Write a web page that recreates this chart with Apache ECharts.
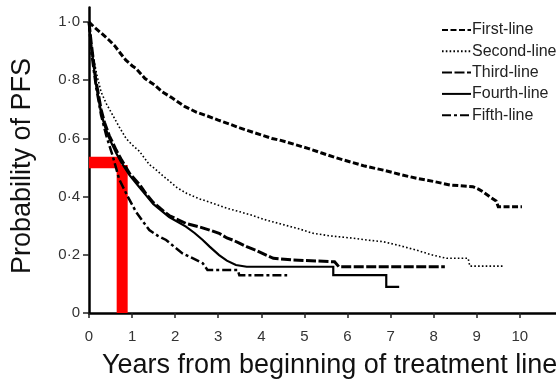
<!DOCTYPE html>
<html><head><meta charset="utf-8">
<script src="https://cdn.jsdelivr.net/npm/echarts@6/dist/echarts.min.js"></script>
<style>html,body{margin:0;padding:0;background:#fff}#c{width:556px;height:382px}</style>
</head><body><div id="c"></div>
<script>
const seriesNames = ['First-line', 'Second-line', 'Third-line', 'Fourth-line', 'Fifth-line'];
const xTicks = [0, 1, 2, 3, 4, 5, 6, 7, 8, 9, 10];
const yTicks = [0, 0.2, 0.4, 0.6, 0.8, 1.0];

const firstLine = [[0,1.0],[0.1,0.985],[0.3,0.96],[0.45,0.94],[0.6,0.918],[0.7,0.898],[0.85,0.87],[1.0,0.85],[1.09,0.841],[1.3,0.806],[1.52,0.784],[1.7,0.76],[1.9,0.742],[2.05,0.727],[2.23,0.709],[2.5,0.69],[2.75,0.677],[3.0,0.663],[3.25,0.65],[3.5,0.636],[3.77,0.623],[4.0,0.612],[4.25,0.6],[4.43,0.594],[4.6,0.587],[4.8,0.578],[5.1,0.565],[5.4,0.55],[5.7,0.535],[6.05,0.52],[6.4,0.505],[6.83,0.491],[7.2,0.477],[7.6,0.463],[8.0,0.452],[8.38,0.44],[8.91,0.434],[9.05,0.425],[9.14,0.417],[9.3,0.40],[9.45,0.385],[9.5,0.365],[10.05,0.365]];
const secondLine = [[0,1.0],[0.04,0.94],[0.1,0.88],[0.18,0.82],[0.28,0.76],[0.4,0.72],[0.55,0.68],[0.7,0.64],[0.86,0.60],[1.0,0.578],[1.17,0.556],[1.3,0.53],[1.4,0.51],[1.52,0.497],[1.65,0.48],[1.85,0.455],[2.05,0.43],[2.27,0.411],[2.55,0.393],[2.88,0.377],[3.2,0.36],[3.5,0.348],[3.8,0.335],[4.1,0.32],[4.55,0.302],[4.9,0.288],[5.2,0.274],[5.6,0.265],[6.13,0.257],[6.5,0.25],[6.83,0.245],[7.2,0.232],[7.6,0.216],[7.95,0.2],[8.3,0.188],[8.8,0.188],[8.84,0.161],[9.6,0.161]];
const thirdLine = [[0,1.0],[0.05,0.93],[0.16,0.80],[0.28,0.70],[0.36,0.655],[0.47,0.61],[0.63,0.56],[0.74,0.53],[0.94,0.48],[1.18,0.44],[1.32,0.41],[1.49,0.38],[1.65,0.36],[1.86,0.335],[2.25,0.308],[2.58,0.295],[2.8,0.285],[3.02,0.274],[3.2,0.258],[3.35,0.25],[3.49,0.24],[3.66,0.228],[3.87,0.216],[4.1,0.2],[4.28,0.188],[4.74,0.182],[5.7,0.176],[5.8,0.159],[8.26,0.159]];
const fourthLine = [[0,1.0],[0.05,0.92],[0.16,0.79],[0.28,0.69],[0.36,0.645],[0.47,0.60],[0.63,0.55],[0.74,0.52],[0.94,0.474],[1.17,0.432],[1.32,0.405],[1.49,0.375],[1.65,0.355],[1.86,0.33],[2.25,0.297],[2.45,0.275],[2.64,0.251],[2.8,0.228],[3.02,0.199],[3.2,0.18],[3.41,0.165],[3.66,0.159],[5.67,0.159],[5.67,0.13],[6.9,0.13],[6.9,0.09],[7.2,0.09]];
const fifthLine = [[0,1.0],[0.05,0.9],[0.16,0.78],[0.28,0.68],[0.4,0.61],[0.55,0.54],[0.7,0.46],[0.9,0.40],[1.09,0.348],[1.25,0.315],[1.4,0.285],[1.6,0.265],[1.79,0.251],[2.0,0.225],[2.17,0.205],[2.45,0.185],[2.64,0.171],[2.75,0.148],[3.45,0.148],[3.49,0.13],[4.6,0.13]];
const redHorizontal = [[0,0.517],[0.745,0.517]];
const redVertical = [[0.77,0.509],[0.77,0]];

const FONT = '"Liberation Sans", Arial, sans-serif';
const curveData = [firstLine, secondLine, thirdLine, fourthLine, fifthLine];
const curveStyles = [
  {width: 3, type: [6, 2.5]},
  {width: 1.6, type: [1.6, 2.2]},
  {width: 3, type: [10, 2.5]},
  {width: 2.2, type: 'solid'},
  {width: 2.5, type: [9, 3, 3, 3]}
];
const fmtY = v => v === 0 ? '0' : v.toFixed(1).replace('.', '\u00b7');

const chart = echarts.init(document.getElementById('c'), null, {renderer: 'canvas'});
const series = curveData.map((d, i) => ({
  name: seriesNames[i], type: 'line', data: d,
  symbol: 'none', showSymbol: false, z: 3,
  lineStyle: {color: '#000', width: curveStyles[i].width, type: curveStyles[i].type, cap: 'butt', join: 'miter'},
  itemStyle: {color: '#000'}
}));
series.unshift(
  {type: 'line', data: redHorizontal, symbol: 'none', z: 2, silent: true,
   lineStyle: {color: '#ff0000', width: 11.5, cap: 'butt'}},
  {type: 'line', data: redVertical, symbol: 'none', z: 2, silent: true,
   lineStyle: {color: '#ff0000', width: 11, cap: 'butt'}}
);

chart.setOption({
  animation: false,
  backgroundColor: '#fff',
  grid: {left: 89, right: 0, top: 7.5, bottom: 69, containLabel: false},
  xAxis: {
    type: 'value', min: 0, max: 10.84,
    axisLine: {lineStyle: {color: '#000', width: 2.5}},
    axisTick: {show: true, length: 5, customValues: xTicks, lineStyle: {color: '#222', width: 1.5}},
    axisLabel: {customValues: xTicks, margin: 16, fontSize: 15, color: '#333', fontFamily: FONT},
    splitLine: {show: false}
  },
  yAxis: {
    type: 'value', min: 0, max: 1.05,
    axisLine: {show: true, lineStyle: {color: '#000', width: 2.5}},
    axisTick: {show: true, length: 6, customValues: yTicks, lineStyle: {color: '#222', width: 1.5}},
    axisLabel: {customValues: yTicks, margin: 9, fontSize: 15, color: '#333', fontFamily: FONT, formatter: fmtY},
    splitLine: {show: false}
  },
  legend: {
    data: seriesNames, orient: 'vertical', left: 441, top: 22,
    itemWidth: 29, itemHeight: 14, itemGap: 5.3, padding: 0,
    itemStyle: {opacity: 0},
    textStyle: {fontSize: 16, color: '#222', fontFamily: FONT, padding: [0, 0, 0, -4]}
  },
  graphic: [
    {type: 'text', x: 23, y: 166, rotation: Math.PI / 2,
     style: {text: 'Probability of PFS', font: '27px ' + FONT, fill: '#111', align: 'center', verticalAlign: 'middle'}},
    {type: 'text', x: 102, y: 366,
     style: {text: 'Years from beginning of treatment line', font: '27px ' + FONT, fill: '#111', align: 'left', verticalAlign: 'middle'}}
  ],
  series: series
});
</script>
</body></html>
